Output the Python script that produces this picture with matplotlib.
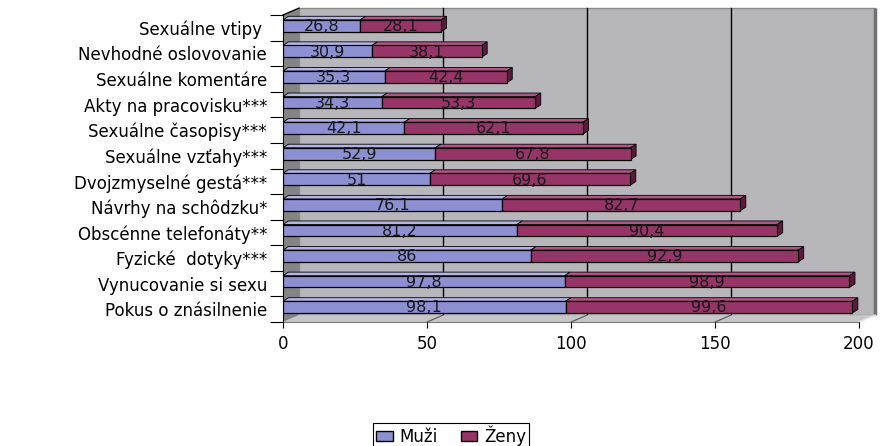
import matplotlib.pyplot as plt
from matplotlib.patches import Polygon, Patch

plt.rcParams['font.family'] = ['DejaVu Sans']

# categories listed bottom -> top
categories = ['Pokus o znásilnenie', 'Vynucovanie si sexu', 'Fyzické  dotyky***',
              'Obscénne telefonáty**', 'Návrhy na schôdzku*', 'Dvojzmyselné gestá***',
              'Sexuálne vzťahy***', 'Sexuálne časopisy***', 'Akty na pracovisku***',
              'Sexuálne komentáre', 'Nevhodné oslovovanie', 'Sexuálne vtipy ']
muzi = [98.1, 97.8, 86, 81.2, 76.1, 51, 52.9, 42.1, 34.3, 35.3, 30.9, 26.8]
zeny = [99.6, 98.9, 92.9, 90.4, 82.7, 69.6, 67.8, 62.1, 53.3, 42.4, 38.1, 28.1]
xticks = [0, 50, 100, 150, 200]

W, H = 881, 446
fig = plt.figure(figsize=(W / 100, H / 100), dpi=100)
ax = fig.add_axes([283 / W, (H - 322) / H, 576 / W, 307 / H])
ax.set_xlim(0, 200)
ax.set_ylim(-0.5, len(categories) - 0.5)
y0, y1 = ax.get_ylim()

# oblique depth of the walls and of the bars, in data units
DX, DY = 5.6, 0.27
BDX, BDY = 1.9, 0.14

wall_c, side_c, floor_c = '#b7b7bb', '#848484', '#c6c6c8'

# back wall
ax.add_patch(Polygon([(DX, y0 + DY), (200 + DX, y0 + DY), (200 + DX, y1 + DY), (DX, y1 + DY)],
                     closed=True, facecolor=wall_c, edgecolor='#8a8a8a', lw=1,
                     clip_on=False, zorder=0))
ax.plot([200 + DX, 200 + DX], [y0 + DY, y1 + DY], color='#707070', lw=2.5,
        clip_on=False, zorder=0.5, solid_capstyle='butt')
# floor
ax.add_patch(Polygon([(0, y0), (200, y0), (200 + DX, y0 + DY), (DX, y0 + DY)],
                     closed=True, facecolor=floor_c, edgecolor='none',
                     clip_on=False, zorder=0.6))
ax.plot([200, 200 + DX], [y0, y0 + DY], color='#e4e4e4', lw=1.2, clip_on=False, zorder=0.7)
# left wall
ax.add_patch(Polygon([(0, y0), (0, y1), (DX, y1 + DY), (DX, y0 + DY)],
                     closed=True, facecolor=side_c, edgecolor='none',
                     clip_on=False, zorder=0.6))
ax.plot([0, DX], [y1, y1 + DY], color='black', lw=1, clip_on=False, zorder=0.8)

# gridlines on the back wall and across the floor
for v in xticks[1:-1]:
    ax.plot([v + DX, v + DX], [y0 + DY, y1 + DY], color='black', lw=1, clip_on=False, zorder=0.55)
    ax.plot([v, v + DX], [y0, y0 + DY], color='#555555', lw=0.8, clip_on=False, zorder=0.7)

ys = [i + 0.08 for i in range(len(categories))]
h = 0.46
mz_c, mz_top = '#8c8fd2', '#b3b5ea'
zn_c, zn_top, zn_side = '#973568', '#b55386', '#5e1a3e'

ax.barh(ys, muzi, height=h, color=mz_c, edgecolor='black', lw=0.9, zorder=2)
ax.barh(ys, zeny, left=muzi, height=h, color=zn_c, edgecolor='black', lw=0.9, zorder=2)

for y, m, z in zip(ys, muzi, zeny):
    t = y + h / 2
    end = m + z
    ax.add_patch(Polygon([(0, t), (m, t), (m + BDX, t + BDY), (BDX, t + BDY)],
                         facecolor=mz_top, edgecolor='black', lw=0.6, zorder=1.9, clip_on=False))
    ax.add_patch(Polygon([(m, t), (end, t), (end + BDX, t + BDY), (m + BDX, t + BDY)],
                         facecolor=zn_top, edgecolor='black', lw=0.6, zorder=1.9, clip_on=False))
    ax.add_patch(Polygon([(end, y - h / 2), (end, t), (end + BDX, t + BDY), (end + BDX, y - h / 2 + BDY)],
                         facecolor=zn_side, edgecolor='black', lw=0.6, zorder=1.9, clip_on=False))
    ax.text(m / 2, y - 0.03, f'{m:g}'.replace('.', ','), ha='center', va='center',
            fontsize=11.5, color='#1a1a1a', zorder=3)
    ax.text(m + z / 2, y - 0.03, f'{z:g}'.replace('.', ','), ha='center', va='center',
            fontsize=11.5, color='#1a1a1a', zorder=3)

# axes
for s in ['top', 'right']:
    ax.spines[s].set_visible(False)
ax.spines['left'].set_color('black')
ax.spines['left'].set_zorder(1)
ax.spines['bottom'].set_color('#7a7a7a')
ax.spines['bottom'].set_zorder(1)
ax.set_facecolor('none')

ax.set_xticks(xticks)
ax.set_xticklabels([str(v) for v in xticks], fontsize=12)
ax.tick_params(axis='x', direction='out', length=4.5, width=0.8, color='black', pad=5)

ax.set_yticks(range(len(categories)))
ax.set_yticklabels(categories, fontsize=12)
ax.tick_params(axis='y', which='major', length=0, pad=11.5)
ax.set_yticks([i - 0.5 for i in range(len(categories) + 1)], minor=True)
ax.tick_params(axis='y', which='minor', direction='out', length=9.4, width=0.8, color='black')

handles = [Patch(facecolor=mz_c, edgecolor='black', lw=1),
           Patch(facecolor=zn_c, edgecolor='black', lw=1)]
leg = fig.legend(handles, ['Muži', 'Ženy'], loc='upper center',
                 bbox_to_anchor=(451 / W, 1 - 423 / H), ncol=2, fontsize=12,
                 frameon=True, fancybox=False, edgecolor='black', framealpha=1,
                 handlelength=1.0, handleheight=0.6, handletextpad=0.4,
                 columnspacing=1.4, borderpad=0.15, borderaxespad=0)
leg.get_frame().set_linewidth(0.8)

fig.savefig('out.png', dpi=100)
